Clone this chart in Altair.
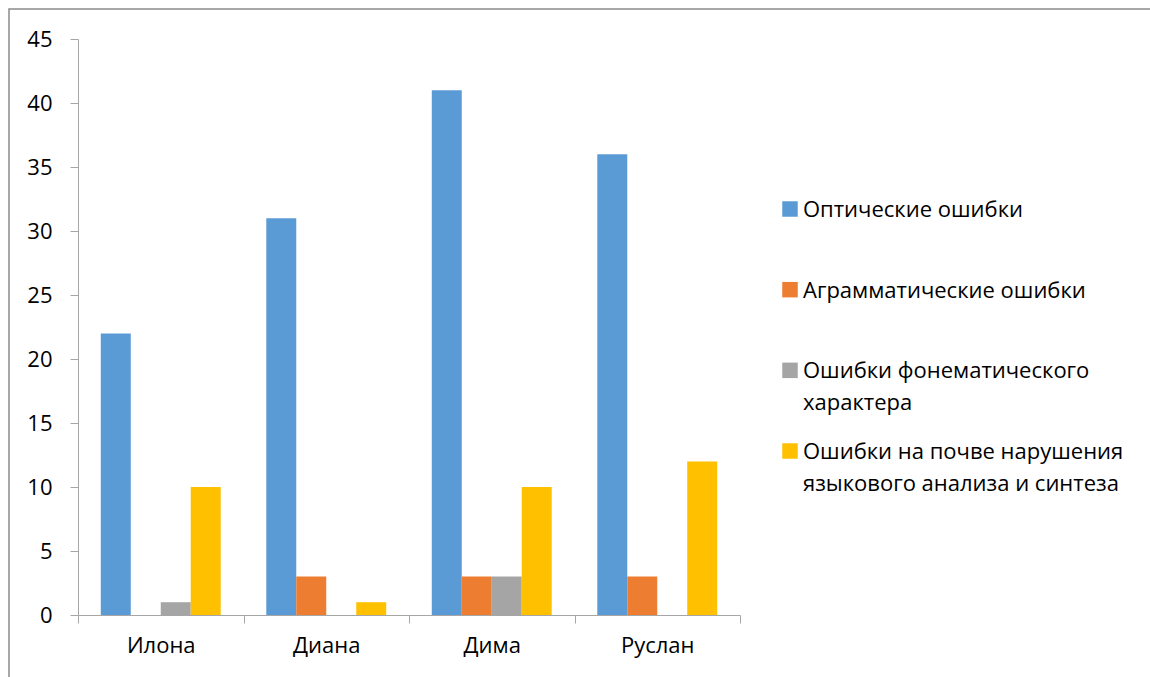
import altair as alt
import pandas as pd

names = ["Илона", "Диана", "Дима", "Руслан"]
series = [
    "Оптические ошибки",
    "Аграмматические ошибки",
    "Ошибки фонематического|характера",
    "Ошибки на почве нарушения|языкового анализа и синтеза",
]
optical = [22, 31, 41, 36]
agram = [0, 3, 3, 3]
phonem = [1, 0, 3, 0]
analysis = [10, 1, 10, 12]
colors = ["#5B9BD5", "#ED7D31", "#A5A5A5", "#FFC000"]

rows = []
for vals, s in zip([optical, agram, phonem, analysis], series):
    for n, v in zip(names, vals):
        rows.append({"name": n, "series": s, "value": v})
df = pd.DataFrame(rows)
leg_df = pd.DataFrame({"series": series})

FONT = "Open Sans"
FS = 22
AX = "#A6A6A6"
color_scale = alt.Scale(domain=series, range=colors)

bars = alt.Chart(df).mark_bar().encode(
    x=alt.X("name:N", sort=names, title=None,
            scale=alt.Scale(paddingInner=0, paddingOuter=0),
            axis=alt.Axis(labelAngle=0, tickBand="extent", tickSize=8, tickColor=AX,
                          domainColor=AX, labelFontSize=FS, labelFont=FONT,
                          labelColor="#000000", labelPadding=12, grid=False)),
    xOffset=alt.XOffset("series:N", sort=series,
                        scale=alt.Scale(paddingInner=0, paddingOuter=0.76)),
    y=alt.Y("value:Q", title=None,
            scale=alt.Scale(domain=[0, 45], nice=False),
            axis=alt.Axis(values=list(range(0, 46, 5)), tickSize=8, tickColor=AX,
                          domainColor=AX, labelFontSize=FS, labelFont=FONT,
                          labelColor="#000000", labelPadding=18, grid=False)),
    color=alt.Color("series:N", sort=series, scale=color_scale, legend=None),
)

leg_y = alt.Y("series:N", sort=series, axis=None,
              scale=alt.Scale(type="point", domain=series, range=[170, 412], padding=0))

leg_sym = alt.Chart(leg_df).mark_square(size=240, opacity=1, filled=True).encode(
    x=alt.value(712),
    y=leg_y,
    color=alt.Color("series:N", scale=color_scale, legend=None),
)

leg_txt = alt.Chart(leg_df).mark_text(
    align="left", baseline="alphabetic", dy=8, font=FONT, fontSize=FS,
    lineBreak="|", lineHeight=32, color="#000000"
).encode(
    x=alt.value(725),
    y=leg_y,
    text="series:N",
)

border = alt.Chart(pd.DataFrame({"a": [0]})).mark_rect(
    fill=None, stroke="#8C8C8C", strokeWidth=1.5
).encode(x=alt.value(-69), x2=alt.value(1200), y=alt.value(-30), y2=alt.value(700))

chart = alt.layer(border, bars, leg_sym, leg_txt).resolve_scale(
    y="independent"
).properties(
    width=662, height=576,
    padding={"left": 78, "top": 39, "right": 410, "bottom": 62},
    autosize=alt.AutoSizeParams(type="none"),
).configure(font=FONT).configure_view(stroke=None)

chart.save("out.html", embed_options={"renderer": "svg", "actions": False})
